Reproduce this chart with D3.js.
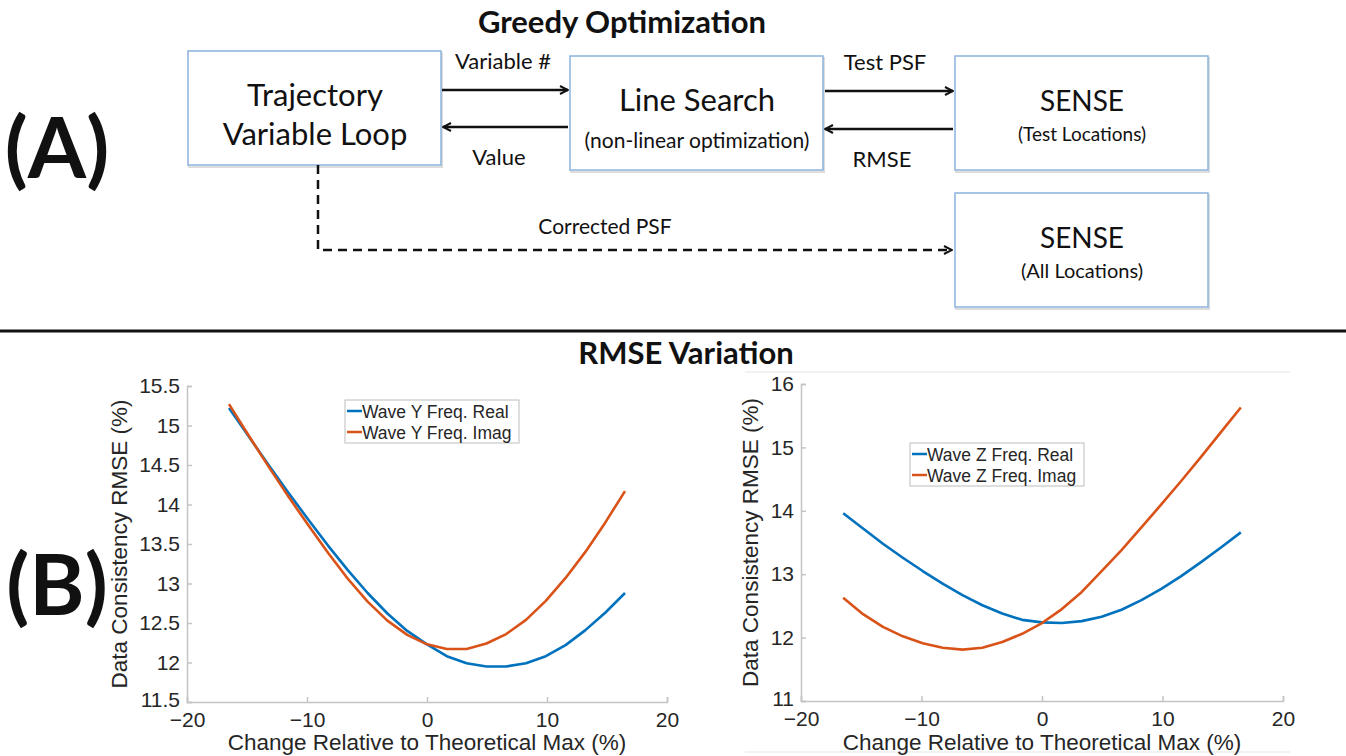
<!DOCTYPE html>
<html>
<head>
<meta charset="utf-8">
<script src="https://cdn.jsdelivr.net/npm/d3@7"></script>
<style>
  body { margin: 0; background: #fff; }
  svg { display: block; }
  .diag { font-family: Lato, "Open Sans", sans-serif; fill: #111; }
  .chart text { font-family: "Liberation Sans", Arial, sans-serif; fill: #262626; }
</style>
</head>
<body>
<svg id="fig" width="1346" height="756"></svg>
<script>
// x positions of the sweep (% change relative to theoretical max)
const changePct = [-16.5, -14.85, -13.2, -11.55, -9.9, -8.25, -6.6, -4.95, -3.3, -1.65, 0,
                   1.65, 3.3, 4.95, 6.6, 8.25, 9.9, 11.55, 13.2, 14.85, 16.5]

// RMSE values
const waveYReal = [15.22, 14.86, 14.50, 14.15, 13.81, 13.48, 13.17, 12.88, 12.62, 12.40, 12.23,
                   12.08, 11.99, 11.95, 11.95, 11.99, 12.08, 12.22, 12.41, 12.63, 12.88]
const waveYImag = [15.27, 14.87, 14.48, 14.10, 13.74, 13.39, 13.06, 12.77, 12.53, 12.35, 12.23,
                   12.17, 12.17, 12.24, 12.36, 12.54, 12.78, 13.07, 13.40, 13.77, 14.17]
const waveZReal = [13.96, 13.72, 13.48, 13.26, 13.05, 12.85, 12.67, 12.51, 12.38, 12.28, 12.24,
                   12.23, 12.26, 12.33, 12.44, 12.59, 12.77, 12.97, 13.19, 13.42, 13.66]
const waveZImag = [12.63, 12.37, 12.17, 12.02, 11.91, 11.84, 11.81, 11.84, 11.93, 12.06, 12.23,
                   12.45, 12.72, 13.05, 13.38, 13.74, 14.10, 14.47, 14.85, 15.24, 15.63]

const xTicks = [-20, -10, 0, 10, 20]
const yTicksLeft = [11.5, 12, 12.5, 13, 13.5, 14, 14.5, 15, 15.5]
const yTicksRight = [11, 12, 13, 14, 15, 16]

const legendLeft = ["Wave Y Freq. Real", "Wave Y Freq. Imag"]
const legendRight = ["Wave Z Freq. Real", "Wave Z Freq. Imag"]

const BLUE = "#0072BD", ORANGE = "#D95319"

var svg = d3.select("#fig")

// ---------- (A) flow diagram ----------
var defs = svg.append("defs")
defs.append("marker")
    .attr("id", "arrow")
    .attr("viewBox", "0 0 10 10")
    .attr("refX", 9).attr("refY", 5)
    .attr("markerWidth", 10).attr("markerHeight", 10)
    .attr("markerUnits", "userSpaceOnUse")
    .attr("orient", "auto")
  .append("path")
    .attr("d", "M1,1 L9,5 L1,9")
    .attr("fill", "none").attr("stroke", "#111").attr("stroke-width", 2)

var diagram = svg.append("g").attr("class", "diag")

diagram.append("text").attr("x", 622).attr("y", 33)
    .attr("text-anchor", "middle").attr("font-size", 31).attr("font-weight", "bold")
    .text("Greedy Optimization")

diagram.append("text").attr("x", 57).attr("y", 178)
    .attr("text-anchor", "middle").attr("font-size", 84).attr("font-weight", "bold")
    .text("(A)")

// box positions + per-line font sizes
const boxes = [
  {x: 188, y: 51, lines: ["Trajectory", "Variable Loop"], sizes: [31, 31], dy: [55, 94]},
  {x: 570, y: 56, lines: ["Line Search", "(non-linear optimization)"], sizes: [31, 21], dy: [55, 92]},
  {x: 955, y: 56, lines: ["SENSE", "(Test Locations)"], sizes: [28, 19], dy: [55, 85]},
  {x: 955, y: 193, lines: ["SENSE", "(All Locations)"], sizes: [28, 20], dy: [55, 85]}
]

boxes.forEach(function(b) {
    diagram.append("rect")
        .attr("x", b.x + 1).attr("y", b.y + 2).attr("width", 253).attr("height", 114)
        .attr("fill", "none").attr("stroke", "#ddd").attr("stroke-width", 2)
    diagram.append("rect")
        .attr("x", b.x).attr("y", b.y).attr("width", 253).attr("height", 114)
        .attr("fill", "#fff").attr("stroke", "#8db3dd").attr("stroke-width", 1.5)
    b.lines.forEach(function(t, i) {
        diagram.append("text").attr("x", b.x + 127).attr("y", b.y + b.dy[i])
            .attr("text-anchor", "middle").attr("font-size", b.sizes[i]).text(t)
    })
})

const arrows = [
  {x1: 442, x2: 568, y: 90, label: "Variable #", ly: 69, lx: 503},
  {x1: 568, x2: 443, y: 127, label: "Value", ly: 165, lx: 499},
  {x1: 825, x2: 953, y: 91, label: "Test PSF", ly: 70, lx: 885},
  {x1: 953, x2: 825, y: 129, label: "RMSE", ly: 167, lx: 882}
]
arrows.forEach(function(a) {
    diagram.append("line")
        .attr("x1", a.x1).attr("x2", a.x2).attr("y1", a.y).attr("y2", a.y)
        .attr("stroke", "#111").attr("stroke-width", 2.5)
        .attr("marker-end", "url(#arrow)")
    diagram.append("text").attr("x", a.lx).attr("y", a.ly)
        .attr("text-anchor", "middle").attr("font-size", 22).text(a.label)
})

diagram.append("path")
    .attr("d", "M318,165 L318,250 L952,250")
    .attr("fill", "none").attr("stroke", "#111").attr("stroke-width", 2.5)
    .attr("stroke-dasharray", "9,6")
    .attr("marker-end", "url(#arrow)")
diagram.append("text").attr("x", 605).attr("y", 234)
    .attr("text-anchor", "middle").attr("font-size", 21).text("Corrected PSF")

// separator
svg.append("line").attr("x1", 0).attr("x2", 1346).attr("y1", 331).attr("y2", 331)
    .attr("stroke", "#111").attr("stroke-width", 3)

// ---------- (B) RMSE plots ----------
svg.append("text").attr("class", "diag").attr("x", 686).attr("y", 364)
    .attr("text-anchor", "middle").attr("font-size", 31).attr("font-weight", "bold")
    .text("RMSE Variation")
svg.append("text").attr("class", "diag").attr("x", 57).attr("y", 615)
    .attr("text-anchor", "middle").attr("font-size", 84).attr("font-weight", "bold")
    .text("(B)")

// faint frame around right panel
svg.append("line").attr("x1", 745).attr("x2", 1290).attr("y1", 372).attr("y2", 372)
    .attr("stroke", "#eee").attr("stroke-width", 1.5)
svg.append("line").attr("x1", 745).attr("x2", 1290).attr("y1", 752).attr("y2", 752)
    .attr("stroke", "#eee").attr("stroke-width", 1.5)

function drawPanel(opts) {
    var g = svg.append("g").attr("class", "chart")
    var x = d3.scaleLinear().domain([-20, 20]).range([opts.left, opts.right])
    var y = d3.scaleLinear().domain(opts.yDomain).range([opts.bottom, opts.top])

    var xAxis = d3.axisBottom(x).tickValues(xTicks).tickSize(-5).tickPadding(10)
        .tickFormat(d => d < 0 ? "\u2212" + Math.abs(d) : d)
    var yAxis = d3.axisLeft(y).tickValues(opts.yTicks).tickSize(-5).tickPadding(7)
        .tickFormat(d => d)

    var gx = g.append("g").attr("transform", `translate(0,${opts.bottom})`).call(xAxis)
    var gy = g.append("g").attr("transform", `translate(${opts.left},0)`).call(yAxis)
    ;[gx, gy].forEach(function(a) {
        a.select(".domain").attr("stroke", "#c4c4c4").attr("stroke-width", 1.5)
        a.selectAll(".tick line").attr("stroke", "#c4c4c4").attr("stroke-width", 1.5)
        a.selectAll(".tick text").attr("font-size", 21).attr("fill", "#262626")
            .attr("font-family", "'Liberation Sans', Arial, sans-serif")
    })
    gx.selectAll(".tick text").attr("dy", "0.71em")
    // lift the bottom y label a touch so it clears the first x label
    gy.selectAll(".tick text").filter(d => d == opts.yDomain[0]).attr("dy", "0.2em")

    g.append("text").attr("x", x(0)).attr("y", 750)
        .attr("text-anchor", "middle").attr("font-size", 22.5)
        .text("Change Relative to Theoretical Max (%)")
    g.append("text")
        .attr("transform", `translate(${opts.titleX},${(opts.bottom + opts.top) / 2}) rotate(-90)`)
        .attr("text-anchor", "middle").attr("font-size", 22.5)
        .text("Data Consistency RMSE (%)")

    var line = d3.line().x((d, i) => x(changePct[i])).y(d => y(d))
    opts.series.forEach(function(s, i) {
        g.append("path").datum(s)
            .attr("fill", "none").attr("stroke", i == 0 ? BLUE : ORANGE)
            .attr("stroke-width", 2.6).attr("stroke-linejoin", "round")
            .attr("d", line)
    })

    // legend
    var lg = g.append("g").attr("transform", `translate(${opts.legend[0]},${opts.legend[1]})`)
    lg.append("rect").attr("width", 174).attr("height", 43)
        .attr("fill", "#fff").attr("stroke", "#bdbdbd").attr("stroke-width", 1)
    opts.labels.forEach(function(t, i) {
        lg.append("line").attr("x1", 2).attr("x2", 17)
            .attr("y1", 11 + i * 21).attr("y2", 11 + i * 21)
            .attr("stroke", i == 0 ? BLUE : ORANGE).attr("stroke-width", 2.5)
        lg.append("text").attr("x", 17).attr("y", 17.5 + i * 21)
            .attr("font-size", 17.5).attr("fill", "#111").text(t)
    })
}

drawPanel({
    left: 187, right: 667, top: 386, bottom: 702, yDomain: [11.5, 15.5], yTicks: yTicksLeft,
    titleX: 127, series: [waveYReal, waveYImag], labels: legendLeft, legend: [345, 400]
})
drawPanel({
    left: 801, right: 1283, top: 384, bottom: 701, yDomain: [11, 16], yTicks: yTicksRight,
    titleX: 758, series: [waveZReal, waveZImag], labels: legendRight, legend: [910, 443]
})
</script>
</body>
</html>
